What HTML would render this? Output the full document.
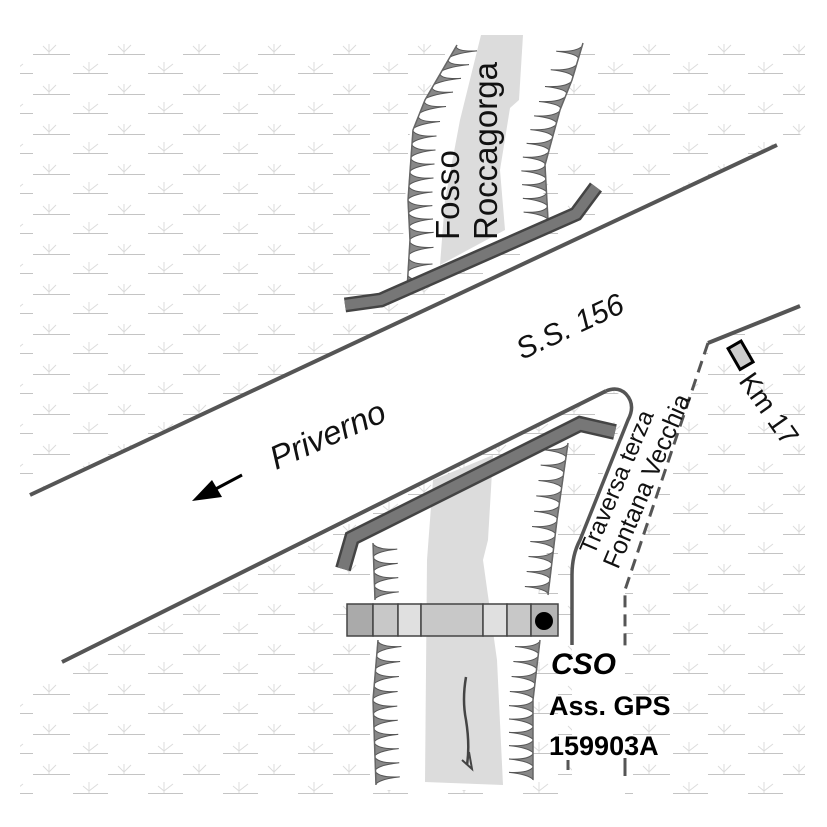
<!DOCTYPE html>
<html><head><meta charset="utf-8"><style>
html,body{margin:0;padding:0;background:#fff}
svg{display:block}
text{font-family:"Liberation Sans",sans-serif}
</style></head><body>
<svg id="s" width="827" height="827" viewBox="0 0 827 827" xmlns="http://www.w3.org/2000/svg">
<defs>
<pattern id="p" x="33" y="40" width="75" height="40" patternUnits="userSpaceOnUse">
<g stroke="#c4c4c4" stroke-width="1" fill="none">
<line x1="0" y1="14.5" x2="37" y2="14.5"/>
<line x1="40" y1="33.5" x2="75" y2="33.5"/>
</g>
<g stroke="#dcdcdc" stroke-width="1" fill="none">
<path d="M16 14 V4 M16 12 L10 6 M16 12 L23 5"/>
<path d="M56 33 V22 M56 31 L50 26 M56 31 L65 24"/>
</g>
</pattern>
</defs>
<rect x="20" y="40" width="785" height="762" fill="url(#p)"/>
<polygon points="30,495 777,145 815,128 815,300 800,306 708,343 625,590 625,815 572,815 572,557 630,400 610,389 62,662 15,690 15,500" fill="#fff"/>
<polygon points="457,45 583,43 560,110 540,170 548,225 400,300 405,200 410,130" fill="#fff"/>
<polygon points="373,543 568,443 555,520 540,580 533,640 532,790 373,790" fill="#fff"/>
<polygon points="481,35 523,35 519,100 510,108 500,170 505,230 440,265 445,200 460,120" fill="#dcdcdc"/>
<polygon points="433,480 493,455 488,540 483,560 497,660 503,785 425,782 427,560" fill="#dcdcdc"/>
<g id="teeth"></g>
<g stroke="#555" stroke-width="4" fill="none">
<line x1="30" y1="495" x2="777" y2="145"/>
<line x1="62" y1="662" x2="606" y2="391"/>
<line x1="708" y1="343" x2="800" y2="306"/>
<path d="M606 391 Q618 386 626 394 Q636 405 628 420 L580 540 Q572 555 572 575 L572 645" stroke-width="3.5"/>
<path d="M708 343 L625 590 L625 650" stroke-width="3" stroke-dasharray="12,7"/>
<line x1="568" y1="760" x2="568" y2="770" stroke-width="3"/>
<line x1="625" y1="758" x2="625" y2="776" stroke-width="3"/>
</g>
<g fill="none" stroke-linejoin="miter">
<polyline points="345,305 381,300 576,214 596,187" stroke="#444" stroke-width="15"/>
<polyline points="345,305 381,300 576,214 596,187" stroke="#777" stroke-width="10"/>
<polyline points="343,569 352,538 580,424 615,432" stroke="#444" stroke-width="16"/>
<polyline points="343,569 352,538 580,424 615,432" stroke="#777" stroke-width="11"/>
</g>
<g stroke="#444" stroke-width="1.5">
<rect x="347" y="604" width="26" height="32" fill="#aaa"/>
<rect x="373" y="604" width="25" height="32" fill="#c8c8c8"/>
<rect x="398" y="604" width="23" height="32" fill="#e0e0e0"/>
<rect x="421" y="604" width="62" height="32" fill="#c8c8c8"/>
<rect x="483" y="604" width="24" height="32" fill="#e0e0e0"/>
<rect x="507" y="604" width="24" height="32" fill="#c8c8c8"/>
<rect x="531" y="604" width="27" height="32" fill="#b4b4b4"/>
</g>
<circle cx="544" cy="621" r="9" fill="#000"/>
<path d="M466 677 Q462 700 466 720 Q470 745 467 765" stroke="#444" stroke-width="2.5" fill="none"/>
<path d="M462 760 L472 769 L469 752" stroke="#444" stroke-width="2" fill="none"/>
<rect x="733" y="343" width="15" height="24" fill="#ccc" stroke="#000" stroke-width="3" transform="rotate(-30 741 355)"/>
<line x1="242" y1="475" x2="210" y2="492" stroke="#000" stroke-width="3"/>
<polygon points="192,501 212,480 222,497" fill="#000"/>
<text x="459" y="240" font-size="33" transform="rotate(-90 459 240)" fill="#111">Fosso</text>
<text x="497" y="240" font-size="33" transform="rotate(-90 497 240)" fill="#111">Roccagorga</text>
<text x="522" y="360" font-size="30" font-style="italic" transform="rotate(-25 522 360)" fill="#111">S.S. 156</text>
<text x="276" y="470" font-size="33" font-style="italic" transform="rotate(-24 276 470)" fill="#111">Priverno</text>
<text x="594" y="556" font-size="24" transform="rotate(-67 594 556)" fill="#111">Traversa terza</text>
<text x="618" y="570" font-size="25" transform="rotate(-67 618 570)" fill="#111">Fontana Vecchia</text>
<text x="738" y="381" font-size="28" transform="rotate(55 738 381)" fill="#111">Km 17</text>
<text x="551" y="674" font-size="30" font-style="italic" font-weight="bold" fill="#000">CSO</text>
<text x="549" y="715" font-size="27" font-weight="bold" fill="#000">Ass. GPS</text>
<text x="549" y="755" font-size="27" font-weight="bold" fill="#000">159903A</text>
</svg>
<script>
var g=document.getElementById('teeth');
function bank(pts,dir){
 var d="";
 for(var i=0;i<pts.length-1;i++){
  var a=pts[i],b=pts[i+1],dx=b[0]-a[0],dy=b[1]-a[1],L=Math.hypot(dx,dy),n=Math.floor(L/13);
  for(var k=0;k<n;k++){
   var t=(k+0.5)/n,x=a[0]+dx*t,y=a[1]+dy*t,ux=dx/L,uy=dy/L;
   var tx=x+dir*24, ty=y-1;
   var cx=x+dir*5, cy=y;
   d+="M"+(x-ux*6)+" "+(y-uy*6)+" Q"+cx+" "+cy+" "+tx+" "+ty+" Q"+cx+" "+(cy+1)+" "+(x+ux*6)+" "+(y+uy*6)+"Z ";
  }
 }
 var p=document.createElementNS("http://www.w3.org/2000/svg","path");
 p.setAttribute("d",d);p.setAttribute("fill","#888");p.setAttribute("stroke","#555");p.setAttribute("stroke-width","1");
 g.appendChild(p);
 var l=document.createElementNS("http://www.w3.org/2000/svg","polyline");
 l.setAttribute("points",pts.map(function(q){return q.join(",")}).join(" "));
 l.setAttribute("fill","none");l.setAttribute("stroke","#666");l.setAttribute("stroke-width","1.5");
 g.appendChild(l);
}
bank([[457,45],[425,100],[413,130],[408,200],[410,240],[407,290]],1);
bank([[583,43],[572,80],[560,110],[545,165],[548,220]],-1);
bank([[373,543],[375,600]],1);
bank([[378,640],[373,700],[376,785]],1);
bank([[568,443],[557,520],[548,595]],-1);
bank([[540,640],[533,700],[533,780]],-1);
</script>
</body></html>
